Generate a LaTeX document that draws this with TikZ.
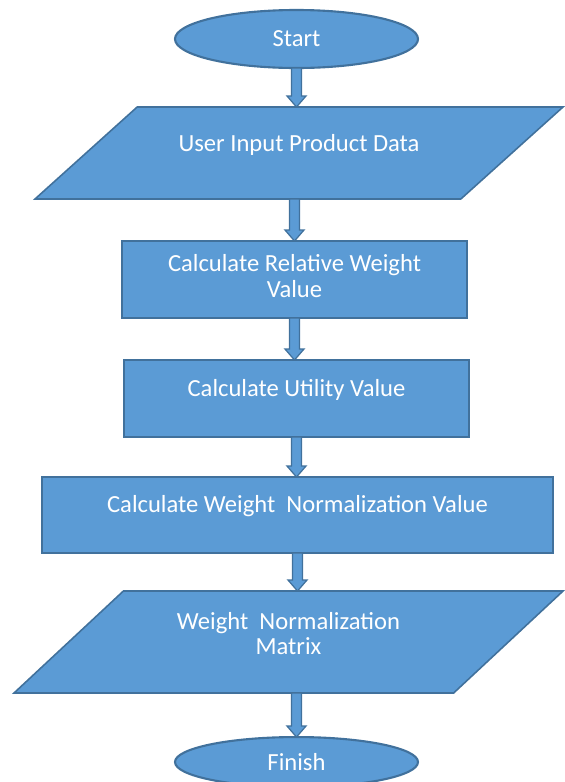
\documentclass[tikz,border=0pt]{standalone}
\usepackage{fontspec}
\setmainfont{Carlito}
\usetikzlibrary{shapes.geometric, positioning, calc}

\definecolor{boxblue}{HTML}{5B9BD5}
\definecolor{edgeblue}{HTML}{41719C}

\tikzset{
  base/.style={draw=edgeblue, fill=boxblue, line width=0.9pt, text=white, outer sep=0pt, font=\fontsize{14}{14.5}\selectfont},
  terminal/.style={base, ellipse, line width=1.2pt, minimum width=4.86cm, minimum height=1.16cm},
  process/.style={base, rectangle, minimum width=6.9cm, minimum height=1.54cm},
  io/.style={base, trapezium, trapezium left angle=42, trapezium right angle=138, trapezium stretches body=true, inner ysep=0.92cm, minimum width=10.56cm},
  inside/.style={text=white, align=center, font=\fontsize{14}{14.5}\selectfont, yshift=0.17cm},
  blockarrow/.style={draw=edgeblue, fill=boxblue, line width=0.7pt, line join=miter}
}

% block arrow: x taken from #1, from the bottom of #2 to the top of #3
\newcommand{\flowarrow}[3]{%
  \filldraw[blockarrow] let \p0=(#1.center), \p1=(#2.south), \p2=(#3.north) in
    (\x0-0.1cm,\y1) -- (\x0+0.1cm,\y1) -- (\x0+0.1cm,\y2+0.22cm) -- (\x0+0.19cm,\y2+0.22cm)
    -- (\x0,\y2) -- (\x0-0.19cm,\y2+0.22cm) -- (\x0-0.1cm,\y2+0.22cm) -- cycle;}

\begin{document}
\begin{tikzpicture}
  \useasboundingbox (0,0) rectangle (11.3,-15.64);

  % Steps of the flow, top to bottom
  \node (start) [terminal] at (5.93,-0.78) {Start};
  \node (input) [io, below=0.78cm of start, xshift=0.05cm, label={[inside]center:User Input Product Data}] {};
  \node (relweight) [process, below=0.84cm of input, xshift=-0.09cm, label={[inside, yshift=-0.1cm]center:{Calculate Relative Weight\\Value}}] {};
  \node (utility) [process, below=0.84cm of relweight, xshift=0.04cm, label={[inside]center:Calculate Utility Value}] {};
  \node (normvalue) [process, minimum width=10.22cm, minimum height=1.52cm, below=0.8cm of utility, xshift=0.02cm, label={[inside]center:Calculate Weight~ Normalization Value}] {};
  \node (matrix) [io, trapezium left angle=43, trapezium right angle=137, inner ysep=1.02cm, minimum width=10.98cm, below=0.76cm of normvalue, xshift=-0.18cm, label={[inside]center:{Weight~ Normalization\\Matrix}}] {};
  \node (finish) [terminal, minimum height=1.0cm, below=0.88cm of matrix, xshift=0.16cm] {Finish};

  % Block arrows between the steps
  \flowarrow{start}{start}{input}
  \flowarrow{relweight}{input}{relweight}
  \flowarrow{relweight}{relweight}{utility}
  \flowarrow{utility}{utility}{normvalue}
  \flowarrow{normvalue}{normvalue}{matrix}
  \flowarrow{finish}{matrix}{finish}
\end{tikzpicture}
\end{document}
